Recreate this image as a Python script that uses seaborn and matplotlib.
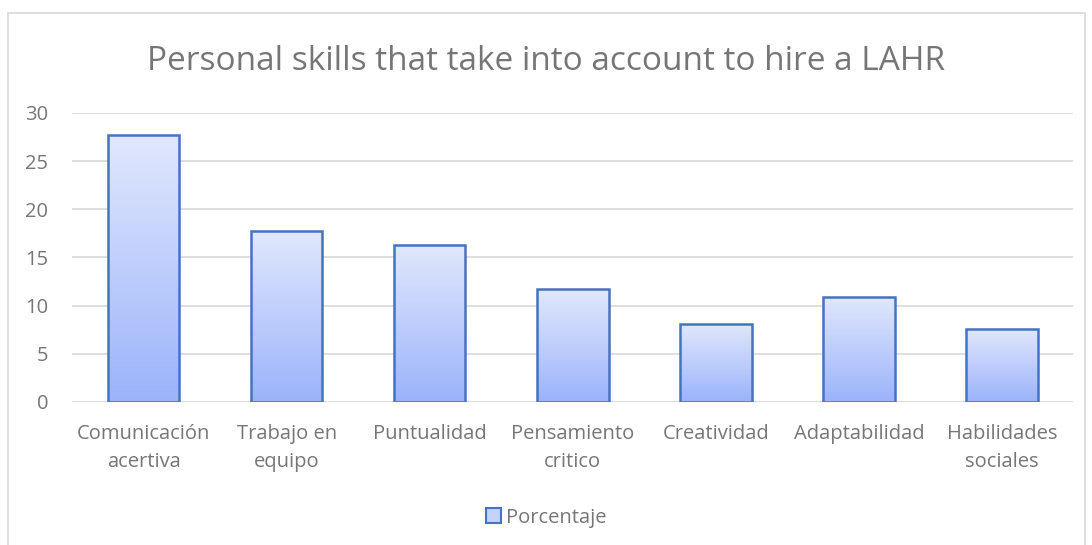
import numpy as np
import pandas as pd
import matplotlib
matplotlib.use("Agg")
import matplotlib.pyplot as plt
from matplotlib.patches import Rectangle, Patch
from matplotlib.colors import LinearSegmentedColormap
import seaborn as sns

categories = ["Comunicación\nacertiva", "Trabajo en\nequipo", "Puntualidad", "Pensamiento\ncritico",
              "Creatividad", "Adaptabilidad", "Habilidades\nsociales"]
values = [27.7, 17.8, 16.3, 11.7, 8.1, 10.9, 7.6]
series_name = "Porcentaje"
title = "Personal skills that take into account to hire a LAHR"
yticks = [0, 5, 10, 15, 20, 25, 30]

sns.set_theme(style="white")
plt.rcParams['font.family'] = ['Open Sans', 'DejaVu Sans']

TXT = "#767676"
df = pd.DataFrame({"cat": categories, "val": values})

fig = plt.figure(figsize=(10.92, 5.45), dpi=100)
ax = fig.add_axes([0.066, 0.2624, 0.917, 0.5303])

sns.barplot(data=df, x="cat", y="val", ax=ax, width=0.5, color="#9BB3FB",
            edgecolor="#4472C4", linewidth=1.8, zorder=3)

cmap = LinearSegmentedColormap.from_list("g", ["#9BB3FB", "#E1E8FD"])
grad = np.linspace(0, 1, 256).reshape(-1, 1)
for p in ax.patches:
    x0, y0 = p.get_x(), p.get_y()
    w, h = p.get_width(), p.get_height()
    p.set_facecolor("none")
    im = ax.imshow(grad, cmap=cmap, extent=[x0, x0 + w, y0, y0 + h], origin="lower",
                   aspect="auto", zorder=2.5)
    clip = Rectangle((x0, y0), w, h, transform=ax.transData)
    im.set_clip_path(clip)

ax.set_xlim(-0.5, len(categories) - 0.5)
ax.set_ylim(0, 30)
ax.set_yticks(yticks)
ax.yaxis.grid(True, color="#D9D9D9", linewidth=1.2, zorder=0)
ax.set_axisbelow(True)
for s in ax.spines.values():
    s.set_visible(False)
ax.axhline(0, color="#D9D9D9", linewidth=1.2, zorder=1)
ax.set_xlabel("")
ax.set_ylabel("")
ax.tick_params(axis="both", length=0, labelsize=14.5, labelcolor=TXT)
ax.tick_params(axis="x", pad=16)
ax.tick_params(axis="y", pad=17)
for lbl in ax.get_xticklabels():
    lbl.set_linespacing(1.55)

fig.text(0.5, 0.888, title, ha="center", va="center", fontsize=24, color=TXT)

leg_handle = Patch(facecolor="#C5D3FC", edgecolor="#4472C4", linewidth=1.5)
fig.legend([leg_handle], [series_name], loc="center", bbox_to_anchor=(0.5, 0.05),
           frameon=False, fontsize=14.5, labelcolor=TXT, handlelength=0.75,
           handleheight=0.75, handletextpad=0.25)

border = Rectangle((8 / 1092, -0.01), (1085 - 8) / 1092, 1 - 13 / 545 + 0.01,
                   transform=fig.transFigure, fill=False, edgecolor="#D9D9D9", linewidth=1.2)
fig.patches.append(border)

fig.savefig("out.png", dpi=100)
